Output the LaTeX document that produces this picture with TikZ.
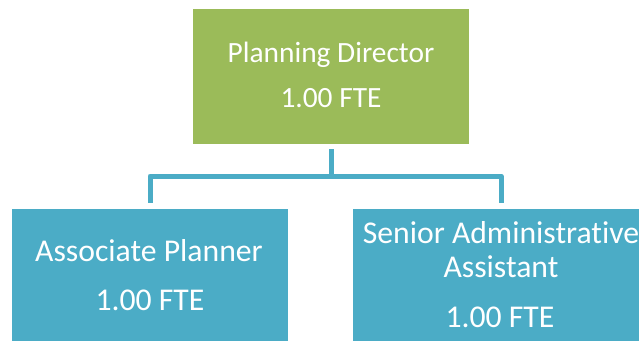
\documentclass[tikz,border=0pt]{standalone}
\usepackage{fontspec}
\setmainfont{Carlito}[Ligatures=NoCommon]
\definecolor{boxgreen}{HTML}{9BBB59}
\definecolor{boxblue}{HTML}{4BACC6}
\tikzset{
  box/.style={draw=none, inner sep=0pt, outer sep=0pt},
  greenbox/.style={box, fill=boxgreen},
  bluebox/.style={box, fill=boxblue},
  toptxt/.style={text=white, inner sep=0pt, anchor=base, font=\fontsize{29.4}{34}\selectfont},
  bottxt/.style={text=white, inner sep=0pt, anchor=base, font=\fontsize{31.7}{36}\selectfont},
  conn/.style={draw=boxblue, line width=5pt, line join=round}
}
\begin{document}
\begin{tikzpicture}[x=1pt, y=-1pt]
\useasboundingbox (0,0) rectangle (639,341);
\clip (0,0) rectangle (639,341);
% boxes
\path (193,9) node[greenbox, anchor=north west, minimum width=276pt, minimum height=135pt] (top) {};
\path (12,209) node[bluebox, anchor=north west, minimum width=276pt, minimum height=132pt] (left) {};
\path (353,209) node[bluebox, anchor=north west, minimum width=296pt, minimum height=132pt] (right) {};
% texts
\node[toptxt] (t1) at (331,62) {Planning Director};
\node[toptxt] (t2) at (331,107) {1.00 FTE};
\node[bottxt] (l1) at (149,261) {Associate Planner};
\node[bottxt] (l2) at (150,310) {1.00 FTE};
\node[bottxt] (r1) at (501,243) {Senior Administrative};
\node[bottxt] (r2) at (501,277) {Assistant};
\node[bottxt] (r3) at (500,327) {1.00 FTE};
% connectors
\coordinate (bus) at (331,176);
\draw[conn] ([yshift=-5pt]top.south) -- (bus);
\draw[conn] (bus) -| ([yshift=6pt]left.north);
\draw[conn] (bus) -| ([yshift=6pt]right.north);
\end{tikzpicture}
\end{document}
